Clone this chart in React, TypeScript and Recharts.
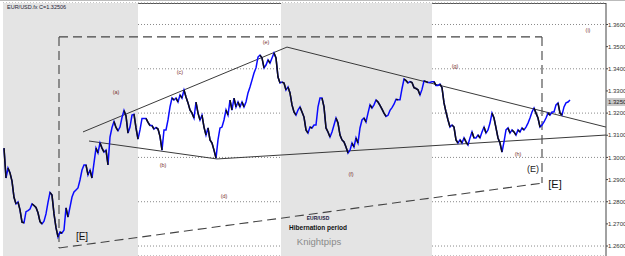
import React from "react";
import {
  LineChart,
  Line,
  XAxis,
  YAxis,
  CartesianGrid,
  ReferenceArea,
  ReferenceLine,
  ReferenceDot,
} from "recharts";

// daily closes, EUR/USD, oldest first
const prices = [
  1.3042, 1.2907, 1.2952, 1.293, 1.2893, 1.282, 1.279, 1.2799, 1.2763, 1.2708,
  1.2705, 1.2755, 1.276, 1.2767, 1.279, 1.2783, 1.2774, 1.275, 1.271, 1.27,
  1.2712, 1.2745, 1.2797, 1.2842, 1.283, 1.2745, 1.2683, 1.2641, 1.2663, 1.2659,
  1.2672, 1.2772, 1.2731, 1.2776, 1.2821, 1.2844, 1.2853, 1.2862, 1.2898, 1.2943,
  1.2966, 1.2966, 1.2921, 1.2943, 1.2907, 1.2975, 1.3042, 1.302, 1.3065, 1.3042,
  1.3024, 1.3033, 1.2966, 1.3092, 1.3135, 1.3162, 1.3135, 1.312, 1.3137, 1.318,
  1.3212, 1.3187, 1.311, 1.3137, 1.3191, 1.3195, 1.3133, 1.3083, 1.3124, 1.3176,
  1.3176, 1.3176, 1.3158, 1.3144, 1.3144, 1.3128, 1.3135, 1.3128, 1.3095, 1.3033,
  1.3124, 1.3124, 1.3169, 1.3228, 1.3268, 1.3259, 1.3268, 1.325, 1.3282, 1.3268,
  1.3304, 1.3273, 1.3246, 1.3214, 1.32, 1.3178, 1.325, 1.32, 1.3169, 1.3191,
  1.3137, 1.3101, 1.3133, 1.3079, 1.3065, 1.3033, 1.2997, 1.3079, 1.3133, 1.3137,
  1.3169, 1.3214, 1.3191, 1.3259, 1.3214, 1.3268, 1.3228, 1.325, 1.3228, 1.325,
  1.3228, 1.325, 1.3291, 1.3318, 1.3349, 1.3381, 1.3404, 1.3453, 1.3462, 1.3449,
  1.3404, 1.3417, 1.344, 1.3426, 1.3449, 1.3471, 1.3449, 1.3363, 1.3336, 1.334,
  1.3336, 1.3304, 1.3318, 1.3291, 1.3237, 1.3205, 1.3191, 1.3214, 1.3228, 1.3205,
  1.3182, 1.3124, 1.311, 1.3137, 1.3133, 1.3146, 1.3146, 1.3228, 1.3268, 1.3268,
  1.3228, 1.3133, 1.3115, 1.3092, 1.3115, 1.3146, 1.3178, 1.3155, 1.3101, 1.3079,
  1.307, 1.3047, 1.302, 1.3033, 1.3065, 1.3047, 1.3088, 1.3065, 1.3133, 1.3169,
  1.3178, 1.316, 1.32, 1.3237, 1.3223, 1.3237, 1.3259, 1.325, 1.3235, 1.3218,
  1.32, 1.3185, 1.319, 1.3212, 1.3225, 1.324, 1.3262, 1.326, 1.326, 1.331,
  1.3354, 1.3347, 1.3336, 1.3342, 1.3338, 1.3315, 1.3311, 1.3305, 1.3282, 1.3307,
  1.3345, 1.3342, 1.3338, 1.3338, 1.3342, 1.3342, 1.3325, 1.3325, 1.3331, 1.3315,
  1.3246, 1.3205, 1.3169, 1.3137, 1.3146, 1.3137, 1.3079, 1.3065, 1.3079, 1.3065,
  1.3088, 1.307, 1.3056, 1.3088, 1.3115, 1.3088, 1.3088, 1.3101, 1.3088, 1.3115,
  1.3137, 1.311, 1.3124, 1.3155, 1.32, 1.3178, 1.3133, 1.3088, 1.3065, 1.3024,
  1.307, 1.3124, 1.3133, 1.311, 1.3124, 1.3115, 1.3101, 1.3124, 1.3115, 1.3133,
  1.3124, 1.3137, 1.3155, 1.3178, 1.3205, 1.3223, 1.32, 1.3178, 1.3137, 1.3146,
  1.316, 1.3178, 1.32, 1.3191, 1.3205, 1.3205, 1.3237, 1.3246, 1.32, 1.3191,
  1.3228, 1.3246, 1.325, 1.3259,
];

const priceTicks = [1.26, 1.27, 1.28, 1.29, 1.3, 1.31, 1.32, 1.33, 1.34, 1.35, 1.36];
const lastQuote = 1.325;

// shaded "hibernation" periods, in bar index
const shadedPeriods = [
  [-0.5, 67],
  [138.5, 214],
];

// triangle trend lines [bar, price] -> [bar, price]
const trendLines = [
  [[39.5, 1.3115], [141.5, 1.3498]],
  [[141.5, 1.3498], [301, 1.3137]],
  [[42.5, 1.3074], [106.5, 1.2993]],
  [[106.5, 1.2993], [301, 1.3101]],
];

// dashed box of the big [E] wave
const boxLines = [
  [[27.5, 1.3544], [27.5, 1.2591]],
  [[27.5, 1.3544], [269, 1.3544]],
  [[269, 1.3544], [269, 1.2884]],
  [[27.5, 1.2591], [269, 1.2884]],
];

// wave labels [text, bar, price]
const waveLabels: [string, number, number][] = [
  ["(a)", 56, 1.3295],
  ["(b)", 79.5, 1.2964],
  ["(c)", 88, 1.3386],
  ["(d)", 110, 1.2826],
  ["(e)", 131, 1.3521],
  ["(f)", 173.5, 1.2925],
  ["(g)", 225.5, 1.3413],
  ["(h)", 257, 1.3015],
  ["(i)", 292, 1.3575],
];

const FONT = "'Liberation Sans', Arial, sans-serif";

// split falling runs into two alternating series so they stay separate
const downA: (number | null)[] = prices.map(() => null);
const downB: (number | null)[] = prices.map(() => null);
let run = -1;
let inRun = false;
for (let i = 0; i < prices.length - 1; i++) {
  const falling = prices[i + 1] < prices[i];
  if (falling && !inRun) {
    run++;
    inRun = true;
  }
  if (!falling) inRun = false;
  if (falling) {
    const target = run % 2 === 0 ? downA : downB;
    target[i] = prices[i];
    target[i + 1] = prices[i + 1];
  }
}

const data = prices.map((p, i) => ({ i, price: p, downA: downA[i], downB: downB[i] }));

const QuoteTag = (props: any) => {
  const { viewBox } = props;
  const x = viewBox.x + viewBox.width + 1;
  const y = viewBox.y;
  return (
    <g>
      <rect x={x} y={y - 4} width={18} height={8} fill="#c8c8c8" />
      <text x={x + 1} y={y + 2.2} fontSize={6} fill="#222" fontFamily={FONT}>
        {lastQuote.toFixed(4)}
      </text>
    </g>
  );
};

export default function App() {
  return (
    <div
      style={{
        position: "absolute",
        left: 0,
        top: 0,
        width: 625,
        height: 256,
        background: "#fff",
        overflow: "hidden",
      }}
    >
      <div style={{ position: "absolute", left: 0, top: 0, width: 625, height: 1, background: "#bbb" }} />
      <div style={{ position: "absolute", left: 3, top: 3, width: 603, height: 1, background: "#555" }} />
      <div style={{ position: "absolute", left: 3, top: 3, width: 1, height: 253, background: "#555" }} />
      <LineChart width={625} height={256} data={data} margin={{ top: 3, right: 0, left: 3, bottom: 0 }}>
        {shadedPeriods.map(([a, b], k) => (
          <ReferenceArea key={k} x1={a} x2={b} fill="#e4e4e4" fillOpacity={1} stroke="none" ifOverflow="visible" />
        ))}
        <CartesianGrid vertical={false} stroke="#8a8a8a" strokeDasharray="1 2" />
        <XAxis type="number" dataKey="i" domain={[-0.5, 301]} hide allowDataOverflow />
        <YAxis
          orientation="right"
          domain={[1.2555, 1.3697]}
          ticks={priceTicks}
          tickFormatter={(v: number) => v.toFixed(4)}
          width={19}
          tickSize={2}
          tickMargin={0}
          allowDataOverflow
          axisLine={{ stroke: "#444" }}
          tickLine={{ stroke: "#444" }}
          tick={{ fontSize: 6, fill: "#333", fontFamily: FONT, textAnchor: "start" }}
        />
        {trendLines.map(([p1, p2], k) => (
          <ReferenceLine
            key={"t" + k}
            segment={[{ x: p1[0], y: p1[1] }, { x: p2[0], y: p2[1] }]}
            stroke="#3a3a3a"
            strokeWidth={1}
            ifOverflow="visible"
          />
        ))}
        {boxLines.map(([p1, p2], k) => (
          <ReferenceLine
            key={"b" + k}
            segment={[{ x: p1[0], y: p1[1] }, { x: p2[0], y: p2[1] }]}
            stroke="#444"
            strokeWidth={1.1}
            strokeDasharray="9 5"
            ifOverflow="visible"
          />
        ))}
        <Line dataKey="price" stroke="#0a0aff" strokeWidth={1.5} dot={false} isAnimationActive={false} />
        <Line dataKey="downA" stroke="#111" strokeWidth={1.5} dot={false} connectNulls={false} isAnimationActive={false} />
        <Line dataKey="downB" stroke="#111" strokeWidth={1.5} dot={false} connectNulls={false} isAnimationActive={false} />
        <ReferenceLine y={lastQuote} stroke="none" ifOverflow="visible" label={<QuoteTag />} />
        {waveLabels.map(([t, x, y]) => (
          <ReferenceDot
            key={t}
            x={x}
            y={y}
            r={0}
            fill="none"
            stroke="none"
            ifOverflow="visible"
            label={{ value: t, position: "center", fontSize: 5.5, fill: "#7a2f2f", fontFamily: FONT }}
          />
        ))}
        <ReferenceDot x={39} y={1.2645} r={0} fill="none" stroke="none" ifOverflow="visible"
          label={{ value: "[E]", position: "center", fontSize: 10, fill: "#111", fontFamily: FONT }} />
        <ReferenceDot x={264.5} y={1.2948} r={0} fill="none" stroke="none" ifOverflow="visible"
          label={{ value: "(E)", position: "center", fontSize: 9, fill: "#222", fontFamily: FONT }} />
        <ReferenceDot x={275.5} y={1.288} r={0} fill="none" stroke="none" ifOverflow="visible"
          label={{ value: "[E]", position: "center", fontSize: 11, fill: "#111", fontFamily: FONT }} />
        <ReferenceDot x={157} y={1.2726} r={0} fill="none" stroke="none" ifOverflow="visible"
          label={{ value: "EUR/USD", position: "center", fontSize: 5, fill: "#1a1a40", fontFamily: FONT, fontWeight: 700 }} />
        <ReferenceDot x={157} y={1.2681} r={0} fill="none" stroke="none" ifOverflow="visible"
          label={{ value: "Hibernation period", position: "center", fontSize: 6.5, fill: "#111", fontFamily: FONT, fontWeight: 700 }} />
        <ReferenceDot x={157.5} y={1.2618} r={0} fill="none" stroke="none" ifOverflow="visible"
          label={{ value: "Knightpips", position: "center", fontSize: 9.5, fill: "#8a8a8a", fontFamily: FONT }} />
      </LineChart>
      <div
        style={{
          position: "absolute",
          left: 7,
          top: 4,
          fontSize: 5.5,
          fontFamily: FONT,
          color: "#223",
          whiteSpace: "nowrap",
        }}
      >
        EUR/USD.fx C=1.32506
      </div>
    </div>
  );
}
